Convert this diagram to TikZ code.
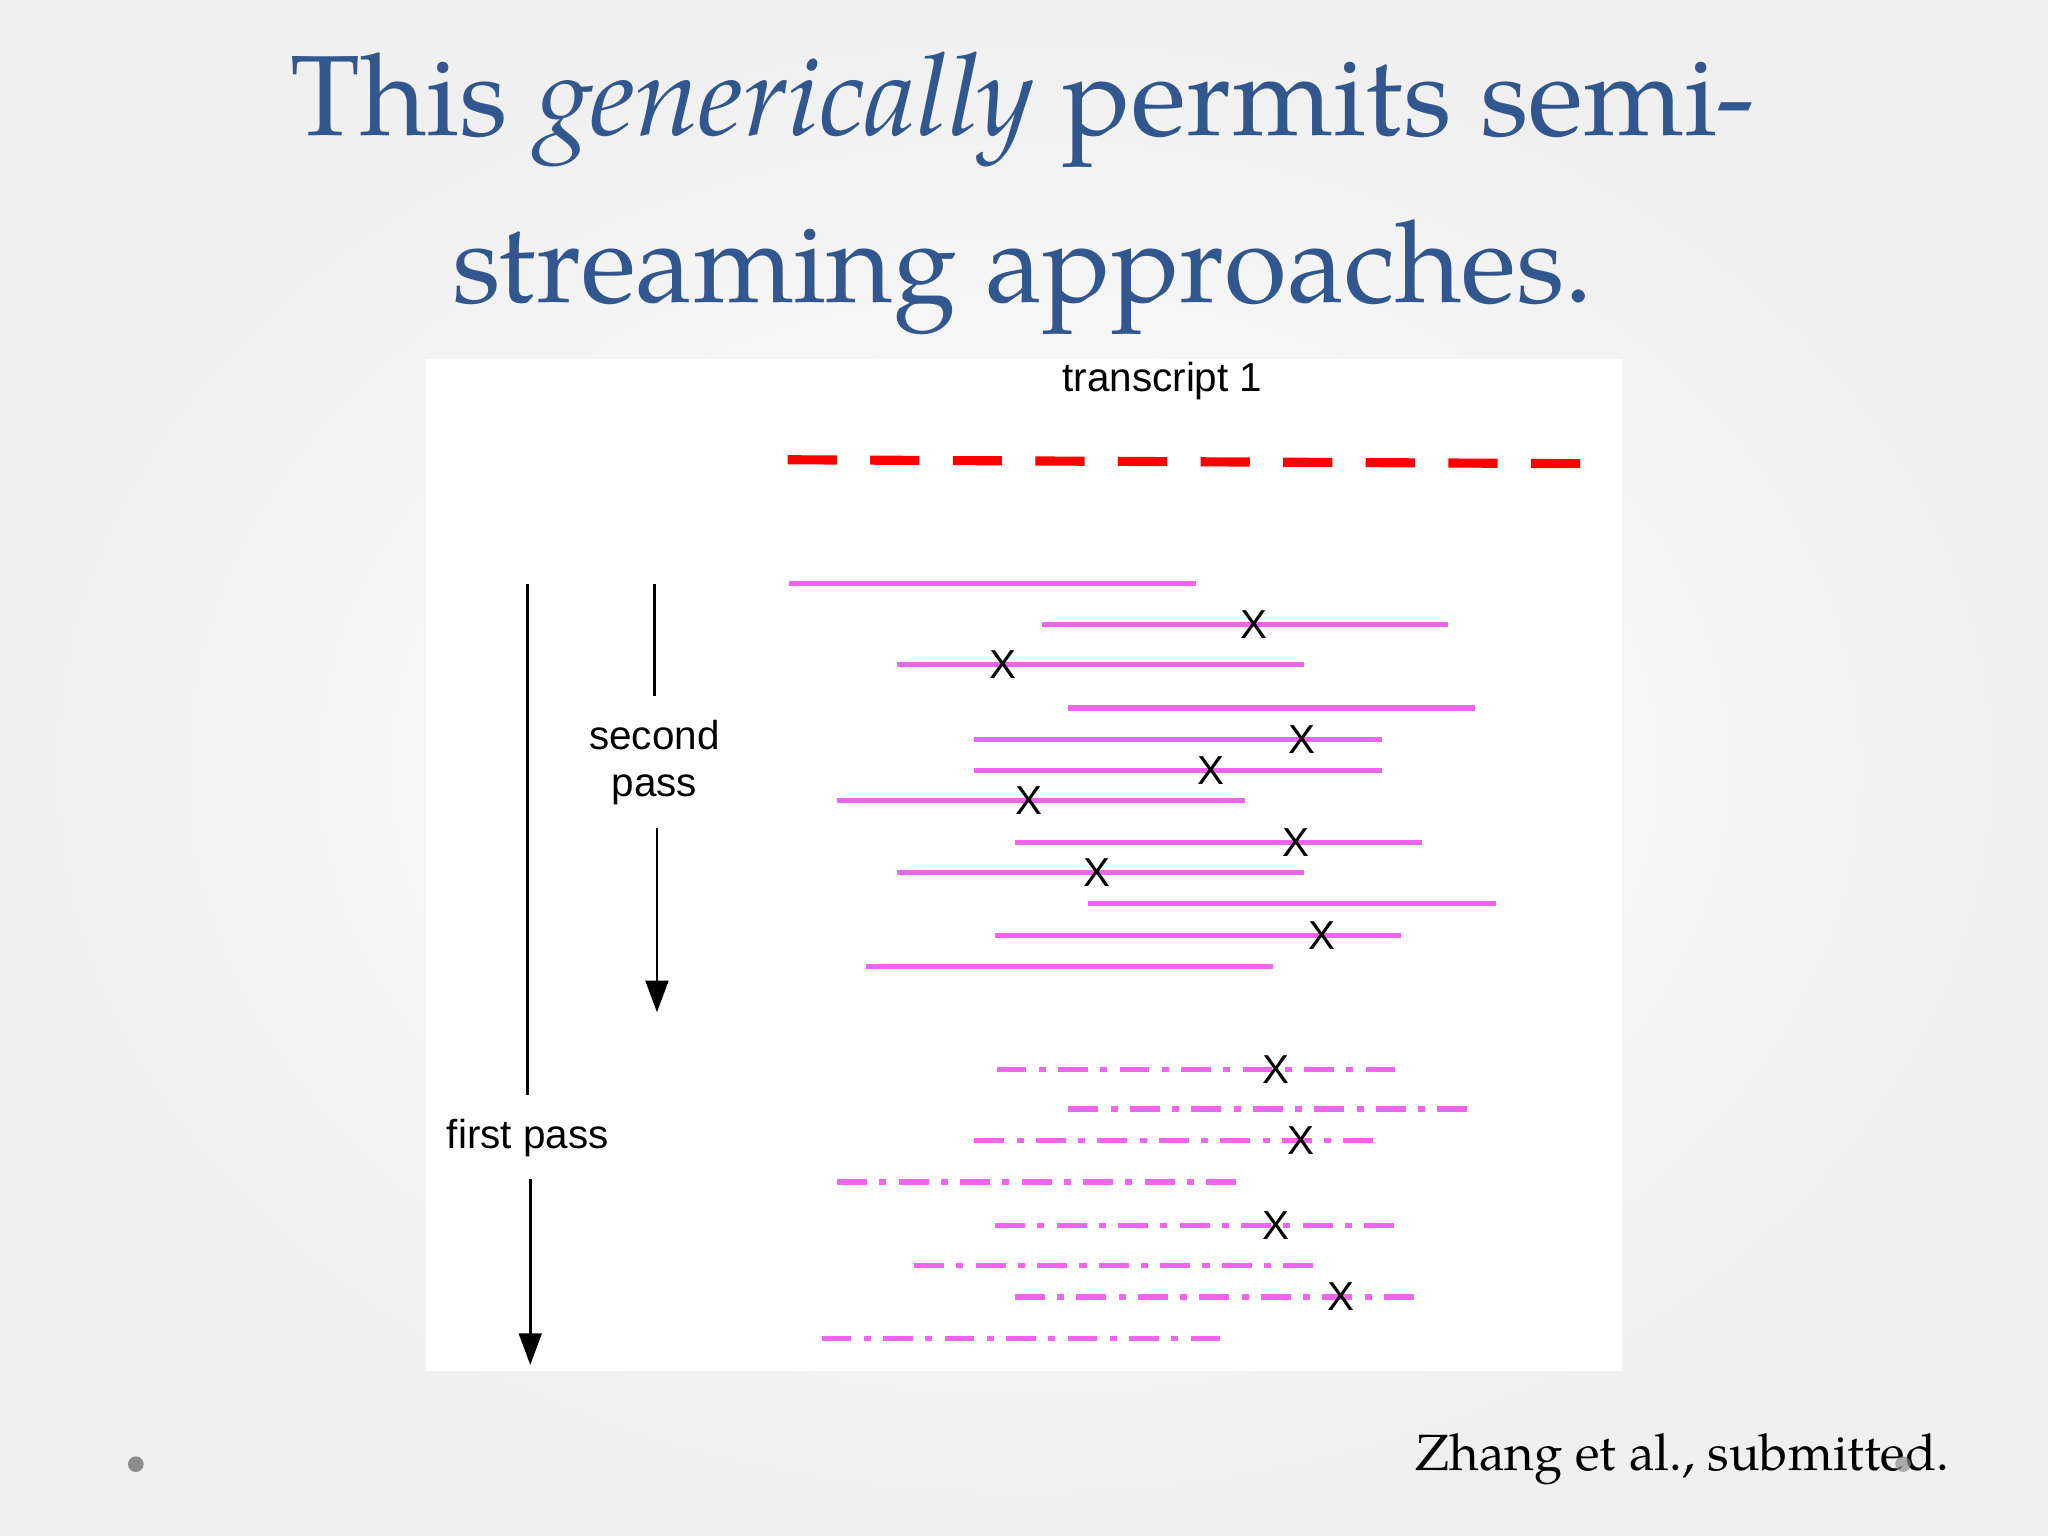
\documentclass[tikz,border=0pt]{standalone}
\usepackage{fontspec}
\setmainfont{TeX Gyre Pagella}[Scale=1]
\setsansfont{Liberation Sans}
\usetikzlibrary{arrows.meta}
\definecolor{titleblue}{RGB}{50,86,142}
\definecolor{pinkline}{RGB}{240,100,240}
\tikzset{
  read/.style={pinkline,line width=1.5pt},
  pread/.style={pinkline,line width=1.5pt,dash pattern=on 8.5pt off 3.5pt on 2pt off 3.5pt},
  xmark/.style={font=\sffamily\fontsize{11.5pt}{11.5pt}\selectfont,inner sep=0pt},
  passarrow/.style={line width=0.7pt,-{Triangle[length=9pt,width=6.5pt]}},
  lbl/.style={font=\sffamily\fontsize{11.5pt}{13.5pt}\selectfont,align=center}
}
\begin{document}
\begin{tikzpicture}[x=0.013061cm,y=-0.013061cm]
\shade[inner color=white,outer color=gray!12] (0,0) rectangle (1568,1176);
\useasboundingbox (0,0) rectangle (1568,1176);
\fill[white] (326,275) rectangle (1242,1050);
\node[titleblue,font=\fontsize{32.5pt}{32.5pt}\selectfont] (t1) at (783,84) {This \textit{generically} permits semi-};
\node[titleblue,font=\fontsize{32.5pt}{32.5pt}\selectfont] (t2) at (783,212) {streaming approaches.};
\node[lbl] (tr) at (890,292) {transcript 1};
\draw[red,line width=2.6pt,dash pattern=on 14pt off 9.5pt] (603,352) -- (1210,355);
\foreach \y/\a/\b in {447/604/916,478/798/1109,509/687/998,542/818/1129,566/746/1058,590/746/1058,613/641/953,645/777/1089,668/687/998,692/833/1145,716/762/1073,740/663/975}
  \draw[read] (\a,\y) -- (\b,\y);
\foreach \y/\a/\b in {819/763/1075,849/818/1129,873/746/1058,905/641/953,938/762/1073,969/700/1011,993/777/1089,1025/629/941}
  \draw[pread] (\a,\y) -- (\b,\y);
\foreach \x/\y [count=\i] in {960/478,768/509,997/566,927/590,788/613,992/645,840/668,1012/716,977/819,996/873,977/938,1027/993}
  \node[xmark] (x\i) at (\x,\y) {X};
\node[lbl] (fp) at (404,871) {first pass};
\node[lbl] (sp) at (501,584) {second\\pass};
\coordinate (fp0) at (404,447); \coordinate (fp1) at (404,838);
\coordinate (fp2) at (406,903); \coordinate (fp3) at (406,1045);
\coordinate (sp0) at (501,447); \coordinate (sp1) at (501,533);
\coordinate (sp2) at (503,634); \coordinate (sp3) at (503,775);
\draw[line width=0.7pt] (fp0) -- (fp1);
\draw[passarrow] (fp2) -- (fp3);
\draw[line width=0.7pt] (sp0) -- (sp1);
\draw[passarrow] (sp2) -- (sp3);
\node[font=\fontsize{14.5pt}{14.5pt}\selectfont] (ref) at (1288,1117) {Zhang et al., submitted.};
\fill[gray!90] (104,1121) circle (6);
\fill[gray!90,opacity=0.7] (1457,1121) circle (6);
\end{tikzpicture}
\end{document}
